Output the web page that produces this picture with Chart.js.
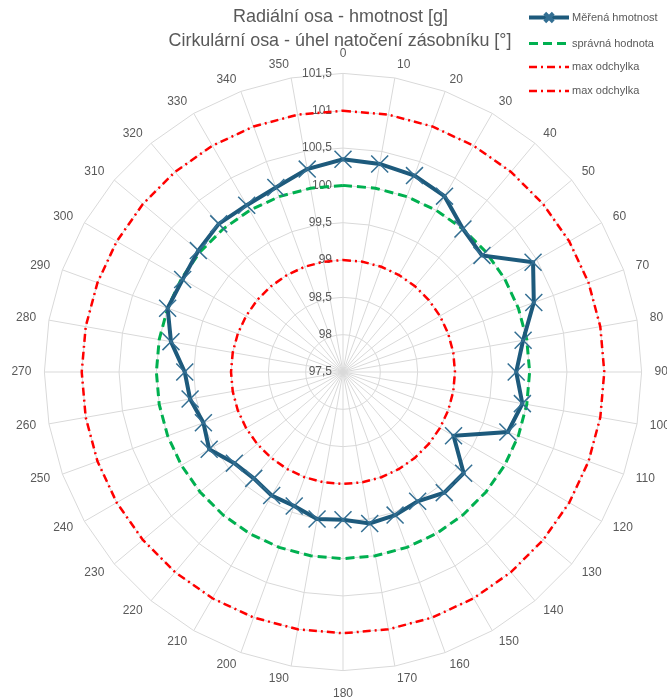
<!DOCTYPE html>
<html>
<head>
<meta charset="utf-8">
<script src="https://cdn.jsdelivr.net/npm/chart.js@4"></script>
<style>
  html, body { margin: 0; padding: 0; background: #fff; }
  #wrap { position: relative; width: 667px; height: 698px; }
</style>
</head>
<body>
<div id="wrap"><canvas id="chart"></canvas></div>
<script>
// Angles around the circle (categories)
const angles = ['0', '10', '20', '30', '40', '50', '60', '70', '80', '90', '100', '110',
  '120', '130', '140', '150', '160', '170', '180', '190', '200', '210', '220', '230',
  '240', '250', '260', '270', '280', '290', '300', '310', '320', '330', '340', '350'];

// Measured mass per angle
const measured = [100.35, 100.33, 100.30, 100.22, 100.00, 99.93, 100.44, 100.22, 99.95, 99.82, 99.94, 99.85,
  99.21, 99.61, 99.61, 99.50, 99.54, 99.56, 99.48, 99.50, 99.41, 99.41, 99.36, 99.40,
  99.57, 99.49, 99.58, 99.62, 99.84, 100.00, 99.98, 100.03, 100.09, 100.08, 100.13, 100.26];

// Correct value and tolerance limits
const correct = [100, 100, 100, 100, 100, 100, 100, 100, 100, 100, 100, 100,
  100, 100, 100, 100, 100, 100, 100, 100, 100, 100, 100, 100,
  100, 100, 100, 100, 100, 100, 100, 100, 100, 100, 100, 100];
const upperLimit = [101, 101, 101, 101, 101, 101, 101, 101, 101, 101, 101, 101,
  101, 101, 101, 101, 101, 101, 101, 101, 101, 101, 101, 101,
  101, 101, 101, 101, 101, 101, 101, 101, 101, 101, 101, 101];
const lowerLimit = [99, 99, 99, 99, 99, 99, 99, 99, 99, 99, 99, 99,
  99, 99, 99, 99, 99, 99, 99, 99, 99, 99, 99, 99,
  99, 99, 99, 99, 99, 99, 99, 99, 99, 99, 99, 99];

// Radial axis ticks
const radialTicks = [97.5, 98, 98.5, 99, 99.5, 100, 100.5, 101, 101.5];

const titleLines = ['Radiální osa - hmotnost [g]', 'Cirkulární osa - úhel natočení zásobníku [°]'];
const textColor = '#595959';
const fontFamily = '"Liberation Sans", Arial, sans-serif';

const fmtTick = (v) => String(v).replace('.', ',');

// Tick labels, right aligned beside the vertical axis
const tickLabelsPlugin = {
  id: 'tickLabels',
  beforeDatasetsDraw(chart) {
    const r = chart.scales.r;
    const ctx = chart.ctx;
    ctx.save();
    ctx.font = '12px ' + fontFamily;
    ctx.fillStyle = textColor;
    ctx.textAlign = 'right';
    ctx.textBaseline = 'middle';
    radialTicks.forEach(v => {
      const d = r.getDistanceFromCenterForValue(v);
      ctx.fillText(fmtTick(v), r.xCenter - 11, r.yCenter - d);
    });
    ctx.restore();
  }
};

// Title and legend drawn over the chart like in the original
const overlayPlugin = {
  id: 'overlay',
  afterDraw(chart) {
    const ctx = chart.ctx;
    ctx.save();
    // Title
    ctx.fillStyle = textColor;
    ctx.textAlign = 'center';
    ctx.textBaseline = 'alphabetic';
    ctx.font = '18.5px ' + fontFamily;
    ctx.fillText(titleLines[0], 340.5, 21.5, 215);
    ctx.fillText(titleLines[1], 340, 45.5, 343);

    // Legend
    const rows = [17.5, 43.5, 67, 91];
    const widths = [94, 86, 70, 70];
    chart.data.datasets.forEach((ds, i) => {
      const y = rows[i];
      ctx.save();
      ctx.strokeStyle = ds.borderColor;
      ctx.lineWidth = ds.borderWidth;
      ctx.setLineDash(ds.borderDash || []);
      ctx.beginPath();
      ctx.moveTo(529, y);
      ctx.lineTo(569, y);
      ctx.stroke();
      ctx.setLineDash([]);
      if (ds.pointRadius > 0) {
        ctx.strokeStyle = ds.pointBorderColor;
        Chart.helpers.drawPoint(ctx, {
          pointStyle: ds.pointStyle, radius: 6, rotation: 0, borderWidth: 1.5
        }, 549, y);
      }
      ctx.restore();
      ctx.fillStyle = textColor;
      ctx.textAlign = 'left';
      ctx.textBaseline = 'middle';
      ctx.font = '11px ' + fontFamily;
      ctx.fillText(ds.label, 572, y, widths[i]);
    });
    ctx.restore();
  }
};

// The original lets the angle labels run off the edge, so fix the
// radar's centre and radius instead of letting Chart.js shrink it
let savedBox = null;
const fixRadar = {
  afterSetDimensions(scale) {
    savedBox = { left: scale.left, right: scale.right, top: scale.top, bottom: scale.bottom };
    scale.left = -500; scale.right = 1200; scale.top = -500; scale.bottom = 1200;
    scale.xCenter = 343;
    scale.yCenter = 372;
    scale.drawingArea = 298.6;
  },
  afterFit(scale) {
    Object.assign(scale, savedBox);
  }
};

// Labels straight up / down sit a bit further out (they are centred vertically otherwise)
const half = angles.length / 2;
const labelPadding = (ctx) => {
  if (ctx.index === 0) return 20;
  if (ctx.index === half) return 23;
  return 13;
};

new Chart(document.getElementById('chart'), {
  type: 'radar',
  data: {
    labels: angles,
    datasets: [
      {
        label: 'Měřená hmotnost',
        data: measured,
        borderColor: '#1d5a7c',
        borderWidth: 4,
        fill: false,
        tension: 0,
        pointStyle: 'crossRot',
        pointRadius: 12,
        pointBorderColor: '#336f93',
        pointBorderWidth: 1.5,
        pointBackgroundColor: 'transparent'
      },
      {
        label: 'správná hodnota',
        data: correct,
        borderColor: '#00b050',
        borderWidth: 3,
        borderDash: [9, 5],
        fill: false,
        pointRadius: 0
      },
      {
        label: 'max odchylka',
        data: upperLimit,
        borderColor: '#ff0000',
        borderWidth: 2.5,
        borderDash: [8, 4, 2, 4],
        fill: false,
        pointRadius: 0
      },
      {
        label: 'max odchylka',
        data: lowerLimit,
        borderColor: '#ff0000',
        borderWidth: 2.5,
        borderDash: [8, 4, 2, 4],
        fill: false,
        pointRadius: 0
      }
    ]
  },
  options: {
    responsive: true,
    maintainAspectRatio: false,
    devicePixelRatio: 1,
    animation: false,
    plugins: {
      legend: { display: false },
      title: { display: false },
      tooltip: { enabled: false }
    },
    scales: {
      r: {
        min: radialTicks[0],
        max: radialTicks[radialTicks.length - 1],
        ticks: { display: false, stepSize: 0.5 },
        grid: { color: '#d9d9d9', lineWidth: 1 },
        angleLines: { color: '#d9d9d9', lineWidth: 1 },
        pointLabels: {
          color: textColor,
          padding: labelPadding,
          font: { size: 12, family: fontFamily, lineHeight: 0 }
        },
        afterSetDimensions: fixRadar.afterSetDimensions,
        afterFit: fixRadar.afterFit
      }
    }
  },
  plugins: [tickLabelsPlugin, overlayPlugin]
});
</script>
</body>
</html>
